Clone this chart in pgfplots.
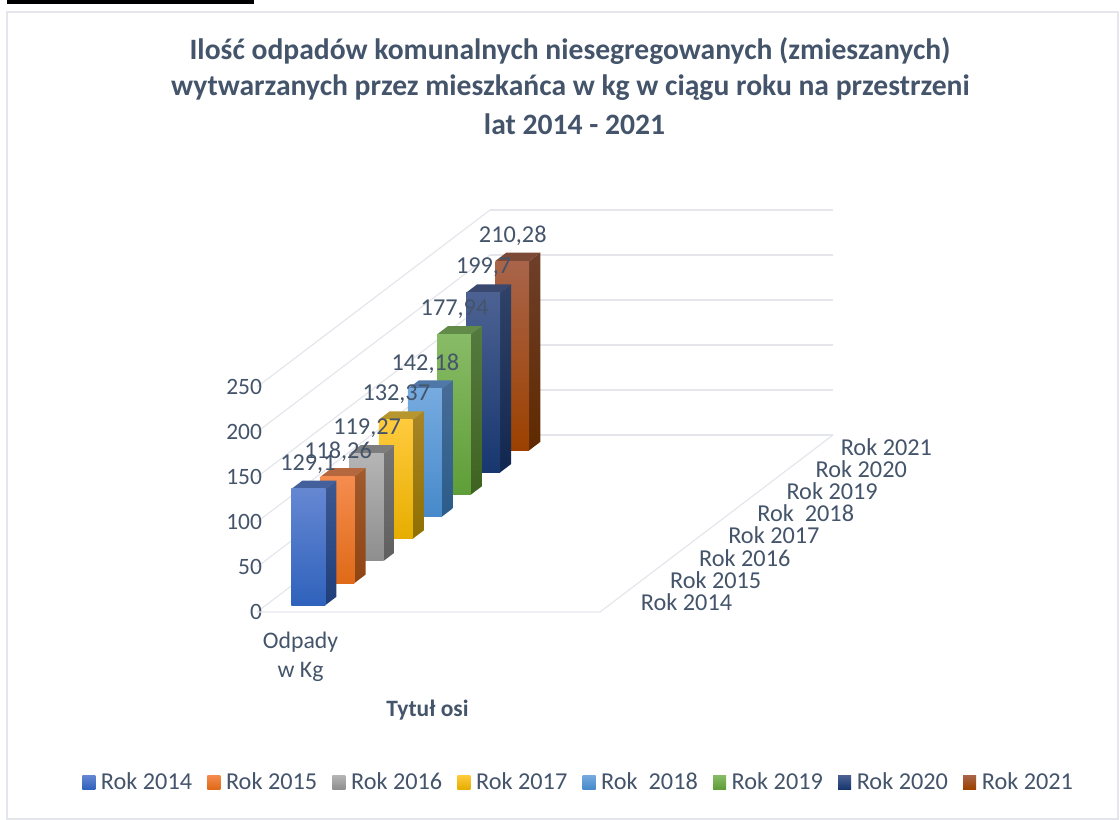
\documentclass[border=0pt]{standalone}
\usepackage{fontspec}
\setmainfont{Carlito}
\usepackage{pgfplots}
\pgfplotsset{compat=1.18}
\definecolor{txt}{HTML}{44546A}
\definecolor{gridc}{HTML}{E4E6EB}
% front top / mid / bottom, top face, side top / bottom
\definecolor{aF}{HTML}{6587D2}\definecolor{aM}{HTML}{4472C8}\definecolor{aB}{HTML}{2F62BC}\definecolor{aT}{HTML}{44609C}\definecolor{aS}{HTML}{3C5892}\definecolor{aD}{HTML}{1F3E7A}
\definecolor{bF}{HTML}{F58C4E}\definecolor{bM}{HTML}{F27C28}\definecolor{bB}{HTML}{DF6A18}\definecolor{bT}{HTML}{B5683E}\definecolor{bS}{HTML}{A05A2C}\definecolor{bD}{HTML}{8F4413}
\definecolor{cF}{HTML}{B5B5B5}\definecolor{cM}{HTML}{A5A5A5}\definecolor{cB}{HTML}{8E8E8E}\definecolor{cT}{HTML}{7D7D7D}\definecolor{cS}{HTML}{757575}\definecolor{cD}{HTML}{5F5F5F}
\definecolor{dF}{HTML}{FFCB3D}\definecolor{dM}{HTML}{FFC000}\definecolor{dB}{HTML}{E6AD00}\definecolor{dT}{HTML}{B8962E}\definecolor{dS}{HTML}{A88528}\definecolor{dD}{HTML}{8F7000}
\definecolor{eF}{HTML}{76ABE0}\definecolor{eM}{HTML}{5B9BD5}\definecolor{eB}{HTML}{4789CA}\definecolor{eT}{HTML}{4F78A8}\definecolor{eS}{HTML}{476C96}\definecolor{eD}{HTML}{2B5C8A}
\definecolor{fF}{HTML}{88BB66}\definecolor{fM}{HTML}{70AD47}\definecolor{fB}{HTML}{5F9E38}\definecolor{fT}{HTML}{628A48}\definecolor{fS}{HTML}{557A3F}\definecolor{fD}{HTML}{3E6320}
\definecolor{gF}{HTML}{4D6293}\definecolor{gM}{HTML}{1F3D7A}\definecolor{gB}{HTML}{17376F}\definecolor{gT}{HTML}{38486F}\definecolor{gS}{HTML}{2F4268}\definecolor{gD}{HTML}{12274F}
\definecolor{hF}{HTML}{A9644A}\definecolor{hM}{HTML}{9E480E}\definecolor{hB}{HTML}{9C4100}\definecolor{hT}{HTML}{7D4A38}\definecolor{hS}{HTML}{6E3F2A}\definecolor{hD}{HTML}{5F2A00}
% one bar: {category index}{value}{colour prefix}
\newcommand{\barbox}[3]{%
\pgfmathsetmacro{\ya}{#1+0.31}\pgfmathsetmacro{\yb}{#1+0.69}%
\edef\doit{\noexpand\addplot3[forget plot,draw=none,top color=#3S,bottom color=#3D] coordinates {(0.173,\ya,0) (0.173,\yb,0) (0.173,\yb,#2) (0.173,\ya,#2) (0.173,\ya,0)};
\noexpand\addplot3[forget plot,draw=none,fill=#3T] coordinates {(0.074,\ya,#2) (0.173,\ya,#2) (0.173,\yb,#2) (0.074,\yb,#2) (0.074,\ya,#2)};
\noexpand\addplot3[forget plot,draw=none,top color=#3F,middle color=#3M,bottom color=#3B] coordinates {(0.074,\ya,0) (0.173,\ya,0) (0.173,\ya,#2) (0.074,\ya,#2) (0.074,\ya,0)};}%
\doit}
\newcommand{\swatch}[2]{\addlegendimage{legend image code/.code={\path[draw=none,fill=none] (12pt,0pt) -- (0pt,0pt);\path[draw=none,top color=#1F,middle color=#1M,bottom color=#1B] (0pt,-5.25pt) rectangle (9.75pt,5.25pt);}}\addlegendentry{#2}}
\begin{document}
\begin{tikzpicture}
\useasboundingbox (0,0) rectangle (840pt,-615pt);
\begin{scope}[x=0.75pt,y=-0.75pt]
\fill[black] (7,0) rectangle (254,4);
\draw[gridc,line width=0.9pt] (7,12) -- (1118,12) -- (1118,819) -- (7,819) -- cycle;
\node[font=\bfseries\fontsize{22.2pt}{26pt}\selectfont,text=txt] at (570,51) {Ilość odpadów komunalnych niesegregowanych (zmieszanych)};
\node[font=\bfseries\fontsize{22.2pt}{26pt}\selectfont,text=txt] at (570.5,88) {wytwarzanych przez mieszkańca w kg w ciągu roku na przestrzeni};
\node[font=\bfseries\fontsize{22.2pt}{26pt}\selectfont,text=txt] at (574.5,124) {lat 2014 - 2021};
\node[font=\fontsize{17.8pt}{21pt}\selectfont,text=txt] at (300.5,642) {Odpady};
\node[font=\fontsize{17.8pt}{21pt}\selectfont,text=txt] at (300.5,672) {w Kg};
\node[font=\bfseries\fontsize{17.6pt}{21pt}\selectfont,text=txt] at (427.5,710) {Tytuł osi};
\end{scope}
\begin{axis}[
  at={(192.75pt,-459pt)}, anchor=origin,
  x={(257.25pt,0pt)}, y={(21.84pt,16.59pt)}, z={(0pt,0.675pt)},
  xmin=0,xmax=1,ymin=0,ymax=8,zmin=0,zmax=250,
  axis line style={draw=none},
  major tick length=0pt,
  xtick=\empty,
  ytick={0.5,1.5,2.5,3.5,4.5,5.5,6.5,7.5},
  yticklabels={Rok 2014,Rok 2015,Rok 2016,Rok 2017,Rok~~2018,Rok 2019,Rok 2020,\hspace*{-3pt}Rok 2021},
  yticklabel pos=right,
  yticklabel style={anchor=west,xshift=273.5pt,yshift=-169.5pt,font=\fontsize{18.2pt}{21pt}\selectfont,text=txt},
  ztick={0,50,100,150,200,250},
  zticklabel pos=left,
  zticklabel style={anchor=east,xshift=7.25pt,font=\fontsize{17.6pt}{21pt}\selectfont,text=txt},
  /pgf/number format/assume math mode=true,
  zmajorgrids=true,
  grid style={gridc,line width=0.9pt},
  clip=false,
  legend columns=8,
  legend cell align=left,
  legend style={draw=none,fill=none,at={(axis cs:0,0,0)},anchor=center,xshift=241.5pt,yshift=-127.5pt,
    font=\fontsize{18.2pt}{21pt}\selectfont,text=txt,/tikz/every even column/.append style={column sep=9.4pt}},
]
\addplot3[forget plot,gridc,line width=0.9pt] coordinates {(0,0,0) (1,0,0) (1,8,0)};
\barbox{7}{210.28}{h}
\barbox{6}{199.7}{g}
\barbox{5}{177.94}{f}
\barbox{4}{142.18}{e}
\barbox{3}{132.37}{d}
\barbox{2}{119.27}{c}
\barbox{1}{118.26}{b}
\barbox{0}{129.1}{a}
\swatch{a}{Rok 2014}
\swatch{b}{Rok 2015}
\swatch{c}{Rok 2016}
\swatch{d}{Rok 2017}
\swatch{e}{Rok~~2018}
\swatch{f}{Rok 2019}
\swatch{g}{Rok 2020}
\swatch{h}{Rok 2021}
\addplot3[forget plot,draw=none,nodes near coords,point meta=explicit symbolic,
  every node near coord/.style={anchor=center,xshift=-4.5pt,yshift=15.5pt,font=\fontsize{18.2pt}{21pt}\selectfont,text=txt,inner sep=0pt}]
  coordinates {(0.1235,0.5,129.1)[129,1]};
\addplot3[forget plot,draw=none,nodes near coords,point meta=explicit symbolic,
  every node near coord/.style={anchor=center,xshift=-3.75pt,yshift=15.75pt,font=\fontsize{18.2pt}{21pt}\selectfont,text=txt,inner sep=0pt}]
  coordinates {(0.1235,1.5,118.26)[118,26] (0.1235,2.5,119.27)[119,27] (0.1235,3.5,132.37)[132,37] (0.1235,4.5,142.18)[142,18] (0.1235,5.5,177.94)[177,94] (0.1235,6.5,199.7)[199,7] (0.1235,7.5,210.28)[210,28]};
\end{axis}
\end{tikzpicture}
\end{document}
